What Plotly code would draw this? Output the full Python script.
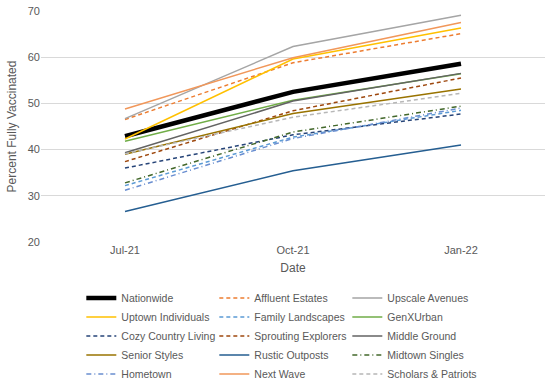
import plotly.graph_objects as go

dates = ["Jul-21", "Oct-21", "Jan-22"]

series_names = ["Nationwide", "Affluent Estates", "Upscale Avenues", "Uptown Individuals",
                "Family Landscapes", "GenXUrban", "Cozy Country Living", "Sprouting Explorers",
                "Middle Ground", "Senior Styles", "Rustic Outposts", "Midtown Singles",
                "Hometown", "Next Wave", "Scholars & Patriots"]

nationwide = [42.9, 52.5, 58.6]
affluent_estates = [46.5, 58.8, 65.1]
upscale_avenues = [46.7, 62.3, 69.1]
uptown_individuals = [42.3, 59.6, 66.3]
family_landscapes = [32.2, 42.7, 48.5]
genxurban = [41.8, 50.7, 56.4]
cozy_country_living = [36.0, 43.2, 47.7]
sprouting_explorers = [37.4, 48.4, 55.5]
middle_ground = [39.3, 50.5, 56.5]
senior_styles = [39.0, 47.8, 53.1]
rustic_outposts = [26.6, 35.4, 41.0]
midtown_singles = [32.8, 43.8, 49.4]
hometown = [31.2, 42.4, 49.0]
next_wave = [48.8, 59.9, 67.5]
scholars_patriots = [39.1, 47.0, 52.2]

values = [nationwide, affluent_estates, upscale_avenues, uptown_individuals,
          family_landscapes, genxurban, cozy_country_living, sprouting_explorers,
          middle_ground, senior_styles, rustic_outposts, midtown_singles,
          hometown, next_wave, scholars_patriots]

DASH = "4px,3px"
DASHDOT = "5px,3px,1px,3px"

styles = [
    ("#000000", "solid", 4.5),
    ("#ED7D31", DASH, 1.5),
    ("#A5A5A5", "solid", 1.5),
    ("#FFC000", "solid", 1.5),
    ("#5B9BD5", DASH, 1.5),
    ("#70AD47", "solid", 1.5),
    ("#264478", DASH, 1.5),
    ("#9E480E", DASH, 1.5),
    ("#636363", "solid", 1.5),
    ("#997300", "solid", 1.5),
    ("#255E91", "solid", 1.5),
    ("#43682B", DASHDOT, 1.5),
    ("#698ED0", DASHDOT, 1.5),
    ("#F1975A", "solid", 1.5),
    ("#B7B7B7", DASH, 1.5),
]

fig = go.Figure()
for name, vals, (col, dash, w) in zip(series_names, values, styles):
    fig.add_trace(go.Scatter(x=dates, y=vals, name=name, mode="lines",
                             line=dict(color=col, dash=dash, width=w)))

fig.update_layout(
    width=550, height=386,
    margin=dict(l=41, r=5, t=11, b=144, autoexpand=False),
    paper_bgcolor="white", plot_bgcolor="white",
    font=dict(family="Liberation Sans, Arial, sans-serif", size=11, color="#595959"),
    xaxis=dict(title=dict(text="Date", font=dict(size=12, color="#595959"), standoff=8),
               range=[-0.5, 2.5], showgrid=False, showline=False, ticks="",
               tickfont=dict(size=11), automargin=False),
    yaxis=dict(title=dict(text="Percent Fully Vaccinated", font=dict(size=12, color="#595959"), standoff=8),
               range=[20, 70], dtick=10, showgrid=True, gridcolor="#D9D9D9", gridwidth=1,
               zeroline=False, showline=False, ticks="", tickfont=dict(size=11), automargin=False),
    legend=dict(orientation="h", x=0.08, xanchor="left", y=-0.18, yanchor="top",
                entrywidth=88, entrywidthmode="pixels", font=dict(size=10.5, color="#595959"),
                tracegroupgap=0, itemwidth=30),
    showlegend=True,
)

fig.write_html("out.html", config={"displayModeBar": False},
               post_script="document.body.style.margin='0';")
